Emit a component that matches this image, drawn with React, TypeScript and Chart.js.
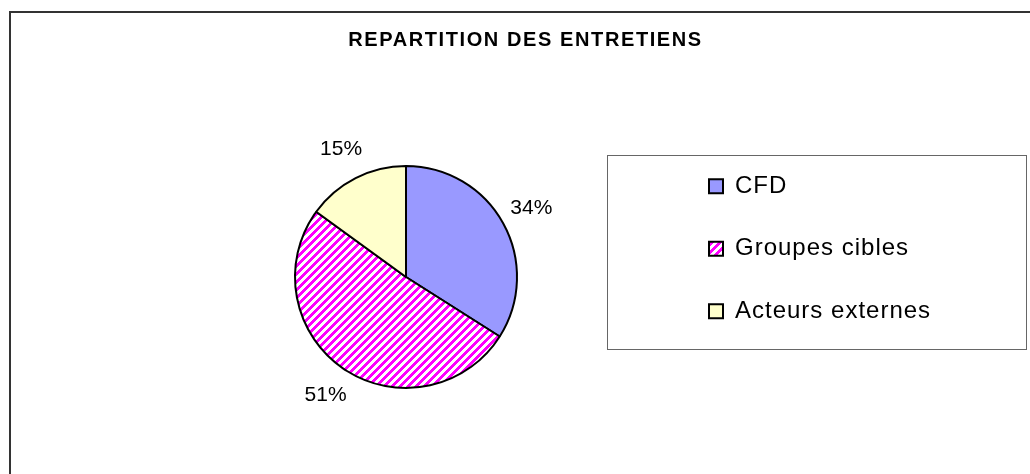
import { useEffect, useRef } from 'react';
import { Chart, registerables } from 'chart.js';

Chart.register(...registerables);

// ---- data ----
const titleText = 'REPARTITION DES ENTRETIENS';
const categories = ['CFD', 'Groupes cibles', 'Acteurs externes'];
const shares = [34, 51, 15];

// ---- styles ----
const FONT = '"Liberation Sans", Arial, Helvetica, sans-serif';
const CFD_COLOR = '#9999ff';
const STRIPE_COLOR = '#ff00ff';
const EXT_COLOR = '#ffffcc';
const LABEL_GAP = 32;

function makeStripes(): CanvasPattern | string {
  const c = document.createElement('canvas');
  const s = 8;
  const k = 4;
  c.width = s;
  c.height = s;
  const g = c.getContext('2d');
  if (!g) return STRIPE_COLOR;
  g.fillStyle = '#ffffff';
  g.fillRect(0, 0, s, s);
  g.fillStyle = STRIPE_COLOR;
  for (let y = 0; y < s; y++) {
    for (let x = 0; x < s; x++) {
      if ((x + y) % s < k) g.fillRect(x, y, 1, 1);
    }
  }
  return g.createPattern(c, 'repeat') || STRIPE_COLOR;
}

function wrap(box: any, spacing: string, shiftX: number, methods: string[]) {
  if (!box || box.__wrapped) return;
  box.__wrapped = true;
  for (const m of methods) {
    const orig = box[m];
    box[m] = function (...args: any[]) {
      const ctx = this.ctx as CanvasRenderingContext2D;
      ctx.save();
      (ctx as any).letterSpacing = spacing;
      if (m === 'draw' && shiftX) ctx.translate(shiftX, 0);
      const r = orig.apply(this, args);
      ctx.restore();
      return r;
    };
  }
}

const spacingPlugin = {
  id: 'spacing',
  beforeLayout(chart: any) {
    wrap(chart.legend, '1px', 0, ['fit', 'draw']);
    wrap(chart.titleBlock, '1.6px', -13, ['draw']);
  },
};

const framePlugin = {
  id: 'frame',
  beforeDraw(chart: any) {
    const ctx = chart.ctx as CanvasRenderingContext2D;
    ctx.save();
    ctx.fillStyle = '#ffffff';
    ctx.fillRect(0, 0, chart.width, chart.height);
    ctx.strokeStyle = '#333333';
    ctx.lineWidth = 2;
    ctx.strokeRect(10, 12, 2000, 2000);
    ctx.strokeStyle = '#666666';
    ctx.lineWidth = 1;
    ctx.strokeRect(607.5, 155.5, 419, 194);
    ctx.restore();
  },
};

const pctPlugin = {
  id: 'pctLabels',
  afterDatasetsDraw(chart: any) {
    const ctx = chart.ctx as CanvasRenderingContext2D;
    const meta = chart.getDatasetMeta(0);
    const data = chart.data.datasets[0].data as number[];
    const total = data.reduce((a, b) => a + b, 0);
    ctx.save();
    (ctx as any).letterSpacing = '0px';
    ctx.font = `21px ${FONT}`;
    ctx.fillStyle = '#000000';
    ctx.textAlign = 'center';
    ctx.textBaseline = 'middle';
    meta.data.forEach((arc: any, i: number) => {
      const { x, y, startAngle, endAngle, outerRadius } = arc.getProps(
        ['x', 'y', 'startAngle', 'endAngle', 'outerRadius'],
        true
      );
      const mid = (startAngle + endAngle) / 2;
      const d = outerRadius + LABEL_GAP;
      const txt = `${Math.round((data[i] / total) * 100)}%`;
      ctx.fillText(txt, x + Math.cos(mid) * d, y + Math.sin(mid) * d);
    });
    ctx.restore();
  },
};

export default function App() {
  const ref = useRef<HTMLCanvasElement>(null);
  useEffect(() => {
    const canvas = ref.current;
    if (!canvas) return;
    const stripes = makeStripes();
    const chart = new Chart(canvas, {
      type: 'pie',
      data: {
        labels: categories,
        datasets: [
          {
            data: shares,
            backgroundColor: [CFD_COLOR, stripes as any, EXT_COLOR],
            borderColor: '#000000',
            borderWidth: 2,
            radius: 111,
          } as any,
        ],
      },
      options: {
        responsive: false,
        animation: false,
        devicePixelRatio: 1,
        events: [],
        layout: { padding: { top: 23.6, bottom: 0, left: 141.5, right: 94.5 } },
        plugins: {
          title: {
            display: true,
            text: titleText,
            color: '#000000',
            font: { family: FONT, size: 20, weight: 'bold', lineHeight: 1.2 },
            padding: { top: 4.9, bottom: 27.5 },
          },
          legend: {
            position: 'right',
            maxWidth: 265,
            labels: {
              boxWidth: 14,
              boxHeight: 14,
              padding: 38.5,
              color: '#000000',
              font: { family: FONT, size: 24 },
            },
          },
          tooltip: { enabled: false },
        },
      } as any,
      plugins: [framePlugin, spacingPlugin, pctPlugin],
    });
    return () => chart.destroy();
  }, []);
  return (
    <div
      style={{
        position: 'fixed',
        left: 0,
        top: 0,
        width: 1030,
        height: 474,
        overflow: 'hidden',
        background: '#ffffff',
      }}
    >
      <canvas ref={ref} width={1030} height={474} style={{ display: 'block' }} />
    </div>
  );
}
